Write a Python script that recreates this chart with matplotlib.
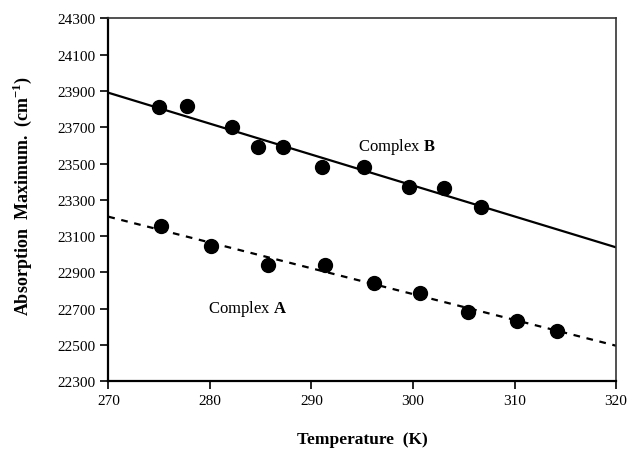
import matplotlib
matplotlib.use("Agg")
import matplotlib.pyplot as plt

# Data
temp_B = [275.0, 277.7, 282.2, 284.7, 287.2, 291.0, 295.2, 299.6, 303.1, 306.7]
abs_B = [23810, 23815, 23700, 23590, 23590, 23478, 23478, 23368, 23365, 23260]
temp_A = [275.2, 280.1, 285.7, 291.3, 296.2, 300.7, 305.4, 310.2, 314.2]
abs_A = [23154, 23047, 22942, 22942, 22840, 22787, 22680, 22631, 22579]
fit_T = [270, 320]
fit_B = [23890, 23038]
fit_A = [23207, 22496]
xticks = [270, 280, 290, 300, 310, 320]
yticks = [22300, 22500, 22700, 22900, 23100, 23300, 23500, 23700, 23900, 24100, 24300]

plt.rcParams['font.family'] = ['Liberation Serif', 'DejaVu Serif']
plt.rcParams['mathtext.fontset'] = 'custom'
plt.rcParams['mathtext.rm'] = 'Liberation Serif'
plt.rcParams['mathtext.bf'] = 'Liberation Serif:bold'

fig = plt.figure(figsize=(6.28, 4.52), dpi=100)
ax = fig.add_axes([0.1725, 0.1542, 0.8085, 0.8031])

ax.plot(fit_T, fit_B, color='black', lw=1.6, solid_capstyle='butt')
ax.plot(fit_T, fit_A, color='black', lw=1.6, linestyle=(0, (3, 3)))
ax.plot(temp_B, abs_B, 'o', color='black', ms=10, zorder=3)
ax.plot(temp_A, abs_A, 'o', color='black', ms=10, zorder=3)

ax.set_xlim(270, 320)
ax.set_ylim(22300, 24300)
ax.set_xticks(xticks)
ax.set_yticks(yticks)
ax.tick_params(direction='out', length=6, width=1.2, labelsize=11, pad=3)

for s in ['left', 'bottom']:
    ax.spines[s].set_linewidth(1.6)
for s in ['top', 'right']:
    ax.spines[s].set_linewidth(1.2)
    ax.spines[s].set_color('#333333')

ax.text(294.6, 23596, 'Complex $\\mathbf{B}$', fontsize=12, va='center')
ax.text(279.8, 22704, 'Complex $\\mathbf{A}$', fontsize=12, va='center')

fig.text(0.035, 0.566, 'Absorption  Maximum.  (cm$^{\\mathbf{-1}}$)', rotation=90,
         ha='center', va='center', fontsize=13, fontweight='bold')
fig.text(0.577, 0.027, 'Temperature  (K)', ha='center', va='center',
         fontsize=12.5, fontweight='bold')

fig.savefig('out.png', dpi=100)
